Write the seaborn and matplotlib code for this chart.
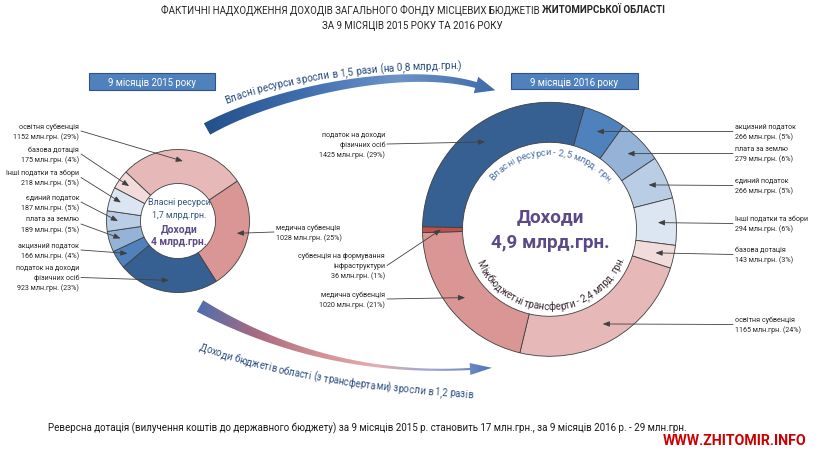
import numpy as np
import matplotlib
matplotlib.use('Agg')
import matplotlib.pyplot as plt
import seaborn as sns
from math import comb
from matplotlib.path import Path
from matplotlib.patches import PathPatch, Rectangle
from matplotlib.colors import LinearSegmentedColormap
from matplotlib.font_manager import FontProperties

# ---------------- data ----------------
cats_2015 = ['медична субвенція', 'податок на доходи фізичних осіб', 'акцизний податок',
             'плата за землю', 'єдиний податок', 'Інші податки та збори',
             'базова дотація', 'освітня субвенція']
vals_2015 = [1028, 923, 166, 189, 187, 218, 175, 1152]

cats_2016 = ['акцизний податок', 'плата за землю', 'єдиний податок', 'Інші податки та збори',
             'базова дотація', 'освітня субвенція', 'медична субвенція',
             'субвенція на формування інфраструктури', 'податок на доходи фізичних осіб']
vals_2016 = [266, 279, 266, 294, 143, 1165, 1020, 36, 1425]

title_regular = 'ФАКТИЧНІ НАДХОДЖЕННЯ ДОХОДІВ ЗАГАЛЬНОГО ФОНДУ МІСЦЕВИХ БЮДЖЕТІВ'
title_bold = 'ЖИТОМИРСЬКОЇ ОБЛАСТІ'
title_line2 = 'ЗА 9 МІСЯЦІВ 2015 РОКУ ТА 2016 РОКУ'
header_2015 = '9 місяців 2015 року'
header_2016 = '9 місяців 2016 року'
center_2015 = ['Власні ресурси', '1,7 млрд.грн.', 'Доходи', '4 млрд.грн.']
center_2016 = ['Доходи', '4,9 млрд.грн.']
arc_own_2016 = 'Власні ресурси - 2,5 млрд. грн.'
arc_transfer_2016 = 'Міжбюджетні трансферти - 2,4 млрд. грн.'
arrow_top_text = 'Власні ресурси зросли в 1,5 рази (на 0,8 млрд.грн.)'
arrow_bottom_text = 'Доходи бюджетів області (з трансфертами) зросли в 1,2 разів'
footnote = ('Реверсна дотація (вилучення коштів до державного бюджету) за 9 місяців 2015 р. '
            'становить 17 млн.грн., за 9 місяців 2016 р. - 29 млн.грн.')
watermark = 'WWW.ZHITOMIR.INFO'
unit = 'млн.грн.'

label_lines = {
    'податок на доходи фізичних осіб': ['податок на доходи', 'фізичних осіб'],
    'субвенція на формування інфраструктури': ['субвенція на формування', 'інфраструктури'],
}

# ---------------- style ----------------
sns.set_theme(style='white')
FONT = ['Roboto', 'DejaVu Sans']
plt.rcParams['font.family'] = FONT

palette = dict(zip(
    ['податок на доходи фізичних осіб', 'акцизний податок', 'плата за землю', 'єдиний податок',
     'Інші податки та збори', 'базова дотація', 'освітня субвенція', 'медична субвенція',
     'субвенція на формування інфраструктури'],
    sns.color_palette(['#376092', '#4f81bd', '#95b3d7', '#b9cde5', '#dce6f2',
                       '#f2dcdb', '#e6b9b8', '#d99694', '#c0504d'])))

W, H = 819, 456
fig = plt.figure(figsize=(W / 100, H / 100), dpi=100)
ax = fig.add_axes([0, 0, 1, 1])
renderer = fig.canvas.get_renderer()


def fp(size, weight='normal', family=FONT):
    return FontProperties(family=family, size=size, weight=weight)


def text_w(s, size, weight='normal', family=FONT):
    return renderer.get_text_width_height_descent(s, fp(size, weight, family), ismath=False)[0]


def fit(s, target, weight='normal', family=FONT, base=10.0):
    return base * target / text_w(s, base, weight, family)


def bezier(ctrl, n=300):
    ctrl = np.asarray(ctrl, dtype=float)
    m = len(ctrl) - 1
    t = np.linspace(0, 1, n)[:, None]
    return sum(comb(m, i) * (1 - t) ** (m - i) * t ** i * ctrl[i] for i in range(m + 1))


def arc_pts(cx, cy, rho, a0, a1, n=300):
    th = np.radians(np.linspace(a0, a1, n))
    return np.column_stack([cx + rho * np.cos(th), cy - rho * np.sin(th)])


def path_len(pts):
    seg = np.diff(pts, axis=0)
    return np.hypot(seg[:, 0], seg[:, 1]).sum()


def text_on_path(s, pts, color, weight='normal', family=FONT, size=None, fill=1.0, zorder=6):
    L = path_len(pts) * fill
    if size is None:
        base = 10.0
        size = base * L / (text_w('x' + s + 'x', base, weight, family) - text_w('xx', base, weight, family))
    prop = fp(size, weight, family)
    ref = renderer.get_text_width_height_descent('xx', prop, ismath=False)[0]
    pos = [renderer.get_text_width_height_descent('x' + s[:i] + 'x', prop, ismath=False)[0] - ref
           for i in range(len(s) + 1)]
    seg = np.diff(pts, axis=0)
    cum = np.concatenate([[0], np.cumsum(np.hypot(seg[:, 0], seg[:, 1]))])
    start = (cum[-1] - pos[-1]) / 2
    for i, ch in enumerate(s):
        if ch == ' ':
            continue
        d = start + (pos[i] + pos[i + 1]) / 2
        x = np.interp(d, cum, pts[:, 0])
        y = np.interp(d, cum, pts[:, 1])
        k = int(np.clip(np.searchsorted(cum, d) - 1, 0, len(seg) - 1))
        ang = np.degrees(np.arctan2(-seg[k, 1], seg[k, 0]))
        ax.text(x, y, ch, rotation=ang, rotation_mode='anchor', ha='center', va='baseline',
                fontproperties=prop, color=color, zorder=zorder)


def ribbon(ctrl, w0, w1, power, head_len, head_w, colors):
    c = bezier(ctrl)
    t = np.linspace(0, 1, len(c))
    der = np.gradient(c, axis=0)
    tan = der / np.linalg.norm(der, axis=1, keepdims=True)
    nor = np.column_stack([-tan[:, 1], tan[:, 0]])
    w = (w1 + (w0 - w1) * (1 - t) ** power)[:, None]
    left = c + nor * w / 2
    right = c - nor * w / 2
    tip = c[-1] + tan[-1] * head_len
    hl = c[-1] + nor[-1] * head_w / 2
    hr = c[-1] - nor[-1] * head_w / 2
    poly = np.vstack([left, hl, tip, hr, right[::-1], left[:1]])
    patch = PathPatch(Path(poly), facecolor='none', edgecolor='none')
    ax.add_patch(patch)
    cmap = LinearSegmentedColormap.from_list('rib', colors)
    x0, x1 = poly[:, 0].min(), poly[:, 0].max()
    y0, y1 = poly[:, 1].min(), poly[:, 1].max()
    im = ax.imshow(np.linspace(0, 1, 256)[None, :], extent=(x0, x1, y1, y0), cmap=cmap,
                   aspect='auto', interpolation='bilinear', zorder=1)
    im.set_clip_path(patch)


# ---------------- donuts ----------------
def donut(cats, vals, cx, cy, R, r_in, start_visual):
    wedges, _ = ax.pie(vals, colors=[palette[c] for c in cats], center=(cx, cy), radius=R,
                       startangle=-start_visual, counterclock=True,
                       wedgeprops=dict(width=R - r_in, edgecolor='#3f3f3f', linewidth=0.6))
    return wedges


C15 = (178, 222); R15, RI15 = 71.5, 37.5
C16 = (549.5, 230.3); R16, RI16 = 127, 87

w15 = donut(cats_2015, vals_2015, C15[0], C15[1], R15, RI15, 34)
w16 = donut(cats_2016, vals_2016, C16[0], C16[1], R16, RI16, 74)

# ---------------- labels ----------------
fs_label = fit('1165 млн.грн. (24%)', 66)
LS = 10

layout_2015 = {
    'освітня субвенція': ('L', 127), 'базова дотація': ('L', 150),
    'Інші податки та збори': ('L', 173.5), 'єдиний податок': ('L', 198),
    'плата за землю': ('L', 220), 'акцизний податок': ('L', 246),
    'податок на доходи фізичних осіб': ('L', 268.5), 'медична субвенція': ('R', 228),
}
layout_2016 = {
    'акцизний податок': ('R', 127.5), 'плата за землю': ('R', 149.5),
    'єдиний податок': ('R', 181.5), 'Інші податки та збори': ('R', 219.5),
    'базова дотація': ('R', 250.5), 'освітня субвенція': ('R', 320.5),
    'податок на доходи фізичних осіб': ('L', 135),
    'субвенція на формування інфраструктури': ('L', 256.5), 'медична субвенція': ('L', 295),
}
side_x_2015 = {'L': (79, 'right', 81), 'R': (276, 'left', 274)}
side_x_2016 = {'L': (385, 'right', 387), 'R': (735, 'left', 733)}


def labels(cats, vals, wedges, center, rho, layout, side_x):
    total = sum(vals)
    for cat, val, wd in zip(cats, vals, wedges):
        side, y0 = layout[cat]
        xt, ha, xl = side_x[side]
        lines = label_lines.get(cat, [cat]) + [f'{val} {unit} ({round(100 * val / total)}%)']
        for i, s in enumerate(lines):
            ax.text(xt, y0 + i * LS, s, ha=ha, va='center', fontsize=fs_label, color='#262626', zorder=7)
        mid = np.radians((wd.theta1 + wd.theta2) / 2)
        tip = (center[0] + rho * np.cos(mid), center[1] + rho * np.sin(mid))
        ax.annotate('', xy=tip, xytext=(xl, y0 + (len(lines) - 1) * LS / 2),
                    arrowprops=dict(arrowstyle='-|>,head_length=0.45,head_width=0.18',
                                    color='#404040', lw=0.6, shrinkA=0, shrinkB=0,
                                    mutation_scale=9), zorder=8)


labels(cats_2015, vals_2015, w15, C15, 0.84 * R15, layout_2015, side_x_2015)
labels(cats_2016, vals_2016, w16, C16, 0.855 * R16, layout_2016, side_x_2016)

# ---------------- center texts ----------------
own_col = '#31577b'
purple = '#5b4a87'
fs_c1 = fit(center_2015[0], 63)
fs_c2 = fit(center_2015[2], 37, 'bold')
ax.text(179, 203, center_2015[0], ha='center', va='center', fontsize=fs_c1, color=own_col, zorder=7)
ax.text(179, 216, center_2015[1], ha='center', va='center', fontsize=fs_c1, color=own_col, zorder=7)
ax.text(179, 229, center_2015[2], ha='center', va='center', fontsize=fs_c2, color=purple,
        weight='bold', zorder=7)
ax.text(179, 242, center_2015[3], ha='center', va='center', fontsize=fs_c2, color=purple,
        weight='bold', zorder=7)

fs_big = fit(center_2016[1], 119, 'bold')
ax.text(550, 217, center_2016[0], ha='center', va='center', fontsize=fs_big, color=purple,
        weight='bold', zorder=7)
ax.text(550, 243, center_2016[1], ha='center', va='center', fontsize=fs_big, color=purple,
        weight='bold', zorder=7)

text_on_path(arc_own_2016, arc_pts(C16[0], C16[1], 75, 139, 38), '#4a6fa8')
text_on_path(arc_transfer_2016, arc_pts(C16[0], C16[1], 80, -156, -21), '#3b2c35')

# ---------------- arrows between donuts ----------------
ribbon([(207, 130), (270, 95), (400, 65), (476, 86)], 13, 6, 1.0, 20, 17,
       ['#234f8a', '#3f6eae', '#6f93c8', '#3d6aa8'])
ribbon([(200, 307), (325, 378), (470, 370)], 13, 2, 2.0, 22, 12,
       ['#4e6fb0', '#a86a80', '#d08e92', '#e3aeae', '#9aa6cf', '#4f74bb'])

text_on_path(arrow_top_text, bezier([(226, 104), (316, 69.5), (462, 69)]), '#2a4c80')
text_on_path(arrow_bottom_text, bezier([(199, 350), (304, 388), (472, 398)]), '#2a4c80')

# ---------------- headers ----------------
fs_head = fit(header_2015, 89)
for (x0, y0, wbox, hbox), txt in [((89, 74, 126, 17), header_2015), ((511, 74, 127, 16), header_2016)]:
    ax.add_patch(Rectangle((x0, y0), wbox, hbox, facecolor='#4f81bd', edgecolor='#2f528f',
                           linewidth=0.8, zorder=3))
    ax.text(x0 + wbox / 2, y0 + hbox / 2 + 0.5, txt, ha='center', va='center', fontsize=fs_head,
            color='white', zorder=4)

# ---------------- title / footnote ----------------
base = 10.0
gap = text_w('x x', base) - text_w('xx', base)
total_w = text_w(title_regular, base) + gap + text_w(title_bold, base, 'bold')
fs_title = base * 504 / total_w
x_split = 161 + text_w(title_regular, fs_title)
ax.text(161, 10, title_regular, ha='left', va='center', fontsize=fs_title, color='#262626')
ax.text(x_split + gap * fs_title / base, 10, title_bold, ha='left', va='center',
        fontsize=fs_title, color='#262626', weight='bold')
ax.text(412, 26, title_line2, ha='center', va='center', fontsize=fs_title, color='#262626')

ax.text(48, 428, footnote, ha='left', va='center', fontsize=fit(footnote, 642), color='#1a1a1a')
ax.text(663, 441, watermark, ha='left', va='center', color='#cc0000', weight='bold',
        fontsize=fit(watermark, 143, 'bold'))

ax.set_xlim(0, W)
ax.set_ylim(H, 0)
ax.set_aspect('equal')
ax.set_axis_off()

fig.savefig('out.png', dpi=100, facecolor='white')
